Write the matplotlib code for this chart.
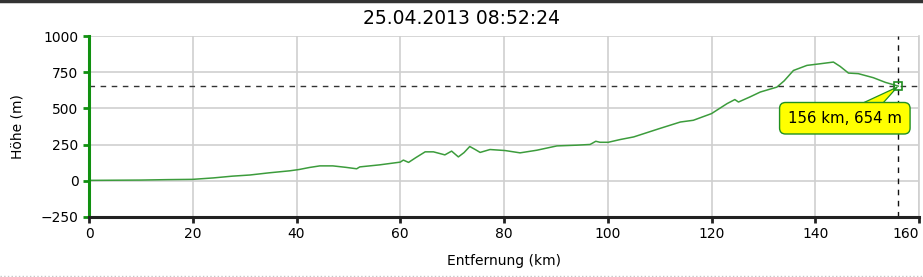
import matplotlib
matplotlib.use("Agg")
import matplotlib.pyplot as plt
from matplotlib.lines import Line2D
from matplotlib.patches import Polygon
from matplotlib.transforms import IdentityTransform

# Data (distance km, elevation m)
dist_km = [0, 5, 10, 15, 20, 24, 27.6, 31, 34.7, 38.7, 40.5, 42.5, 44.5, 47, 49.5,
           51.6, 52.2, 56, 60, 60.6, 61.6, 63, 64.8, 66.4, 68.6, 69.9, 71.2, 72.3,
           73.4, 74.5, 75.4, 77.3, 80.2, 83.1, 86.3, 90.2, 94, 96.6, 97.7, 98.5,
           100.1, 102.4, 105, 110, 114, 116.5, 120, 123, 124.5, 125.2, 127.4,
           129.4, 132.6, 134, 135.8, 138.4, 140.9, 143.5, 144.8, 146.4, 148.3,
           151.2, 153.5, 156]
elev_m = [3, 4, 5, 8, 10, 20, 32, 40, 55, 69, 78, 92, 103, 103, 93,
          83, 96, 110, 129, 143, 127, 160, 200, 200, 179, 205, 165, 195,
          237, 215, 196, 216, 209, 193, 211, 241, 246, 251, 273, 266,
          266, 285, 303, 361, 406, 418, 464, 533, 561, 544, 579,
          613, 647, 690, 762, 797, 808, 820, 790, 744, 740,
          712, 680, 654]
x_ticks = [0, 20, 40, 60, 80, 100, 120, 140, 160]
y_ticks = [-250, 0, 250, 500, 750, 1000]
cursor_km = 156
cursor_m = 654
title = "25.04.2013 08:52:24"

fig = plt.figure(figsize=(9.23, 2.77), dpi=100)
ax = fig.add_axes([89/923, 1-217/277, (919-89)/923, (217-36)/277])

ax.plot(dist_km, elev_m, color="#3c9c3c", lw=1.1)
ax.set_xlim(0, 160)
ax.set_ylim(-250, 1000)
ax.set_xticks(x_ticks)
ax.set_yticks(y_ticks)
ax.grid(True, color="#cfcfcf", lw=1.2)
ax.set_axisbelow(True)

ax.spines["top"].set_visible(False)
ax.spines["right"].set_color("#cfcfcf")
ax.spines["right"].set_linewidth(1.2)
ax.spines["left"].set_color("#109010")
ax.spines["left"].set_linewidth(2.2)
ax.spines["bottom"].set_color("#222222")
ax.spines["bottom"].set_linewidth(2.2)
ax.tick_params(axis="y", colors="#109010", labelcolor="black", length=4, width=2, labelsize=10)
ax.tick_params(axis="x", colors="#222222", labelcolor="black", length=4, width=2, labelsize=10)
xl = ax.get_xticklabels()
xl[-1].set_horizontalalignment("right")

# shadow under bottom axis
ax.plot([0, 160], [-250, -250], color="#999999", lw=1.2, zorder=0, clip_on=False)

ax.set_xlabel("Entfernung (km)", fontsize=10, labelpad=9)
ax.set_ylabel("Höhe (m)", fontsize=10, labelpad=12)
fig.text(0.5, 1-19/277, title, ha="center", va="center", fontsize=13.5)

# cursor lines
ax.axhline(cursor_m, color="#333333", lw=1, ls=(0, (4, 4)))
ax.axvline(cursor_km, color="#111111", lw=1, ls=(0, (4, 4)))

# callout pointer (pixel offsets from the cursor point), figure level
tx, ty = ax.transData.transform((cursor_km, cursor_m))
tri = Polygon([(tx - 42, ty - 20), (tx - 18, ty - 20), (tx - 1, ty - 1)], closed=True,
              transform=IdentityTransform(), fc="#ffff00", ec="#209020",
              lw=0.9, zorder=5)
fig.add_artist(tri)

fig.text(145.7, 432, f"{cursor_km} km, {cursor_m} m", transform=ax.transData,
         ha="center", va="center", fontsize=10.8,
         bbox=dict(boxstyle="round,pad=0.55,rounding_size=0.4", fc="#ffff00", ec="#209020", lw=1),
         zorder=6)

marker = Line2D([cursor_km], [cursor_m], transform=ax.transData, marker="s", ms=6,
                mfc="none", mec="#209020", mew=1.2, zorder=7)
fig.add_artist(marker)

# frame lines of the figure
fig.add_artist(Line2D([0, 1], [1-1/277, 1-1/277], transform=fig.transFigure, color="#333333", lw=2.5))
fig.add_artist(Line2D([0.0, 1], [1/277, 1/277], transform=fig.transFigure, color="#c8c8c8", lw=1, ls=":"))

fig.savefig("out.png", dpi=100)
